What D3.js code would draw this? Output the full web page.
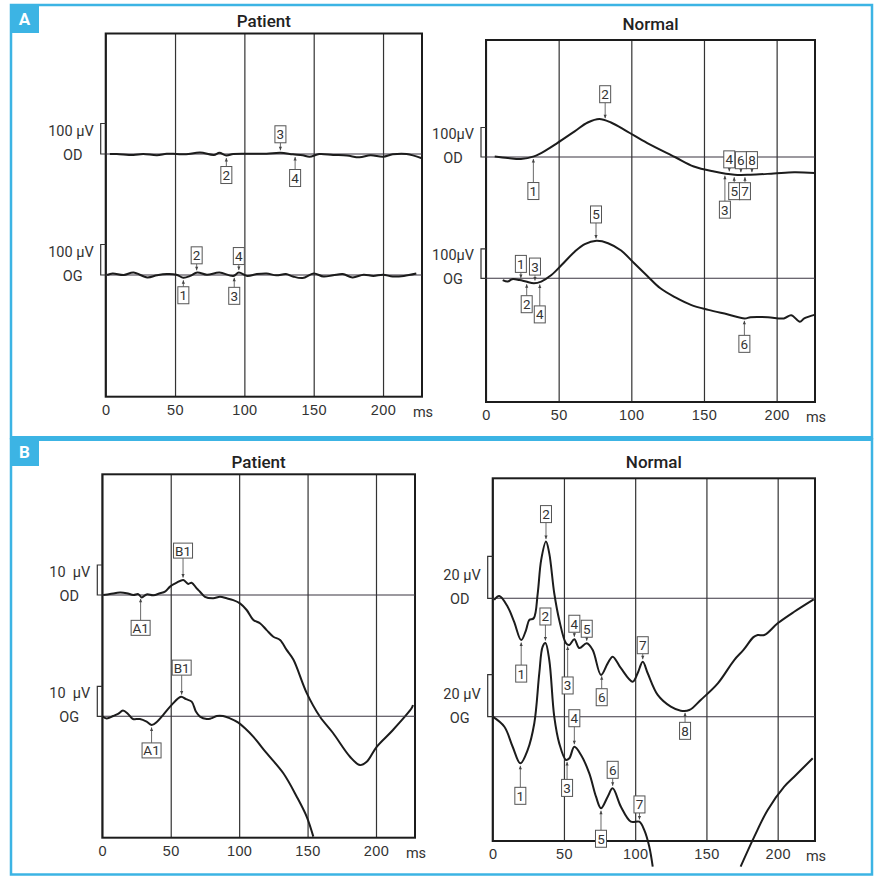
<!DOCTYPE html>
<html>
<head>
<meta charset="utf-8">
<script src="https://cdn.jsdelivr.net/npm/d3@7"></script>
<style>
  body { margin: 0; background: #fff; }
  svg { display: block; font-family: Roboto, "DejaVu Sans", sans-serif; }
  .tick text { font-size: 14.5px; fill: #333; letter-spacing: 0.4px; }
  .mark text { font-size: 13.5px; fill: #333; }
</style>
</head>
<body>
<svg width="882" height="878"></svg>
<script>
// time ticks (ms)
let ticksMs = [0, 50, 100, 150, 200];

// traces: [ms, µV]
let aPatientOD = [[3,0],[8,0],[20,-3],[27,0],[37,-4],[44,1],[51,0],[58,-1],[68,5],[78,-3],[82,4],[87,-5],
  [92,0],[102,1],[116,1],[126,4],[135,-1],[142,-4],[147,-9],[154,0],[164,-3],[174,-5],[183,-11],[191,-4],
  [200,-9],[207,-1],[217,0],[228,-14]];
let aPatientOG = [[1,0],[5,5],[13,0],[20,8],[30,-8],[37,-1],[44,3],[51,1],[56,-9],[61,-3],[66,8],[73,1],
  [82,8],[92,-3],[96,8],[102,-3],[109,3],[116,5],[123,-1],[130,3],[135,-5],[142,-10],[150,5],[157,-5],
  [164,-1],[171,3],[178,-8],[186,1],[193,-3],[200,1],[207,-5],[215,-3],[224,5]];
let aNormalOD = [[6,2],[15,-3],[24,-7],[33,2],[42,25],[49,47],[61,87],[70,117],[78,129],[86,117],[97,87],
  [111,47],[130,0],[143,-32],[157,-49],[171,-60],[182,-60],[198,-56],[212,-52],[226,-54]];
let aNormalOG = [[11.5,-6],[15,-11],[18,-3],[23,-6],[27.5,-11],[33,-17],[38,-11],[45,11],[52,45],[61,90],
  [68,116],[76,127],[84,119],[93,94],[102,51],[111,8],[120,-34],[130,-64],[141,-90],[153,-107],[166,-122],
  [178,-136],[182,-132],[194,-132],[205,-136],[210,-125],[216,-147],[219,-136],[226,-124]];

let bPatientOD = [[0.7,0],[5.6,0.3],[12.9,0.8],[17.8,0.6],[22.7,0],[26.3,0.3],[28.8,-0.8],[32.4,0.2],
  [37.3,-0.1],[42.2,0.6],[45.8,1.1],[49.5,2.8],[54.4,4.1],[59.2,5],[62.8,3.7],[65.3,4.1],[69,2.2],
  [71.4,1.1],[75,-0.6],[81.1,-1.1],[86,-0.6],[90.9,-1.1],[95.7,-1.7],[100.6,-2.8],[105.5,-5],[110.4,-8.3],
  [115.2,-9.4],[120.1,-11.7],[125,-13.9],[129.9,-15],[134.7,-18.3],[139.6,-21.5],[149.4,-32.7],
  [159.1,-40.6],[168.6,-46],[181,-53.9],[188.3,-56.7],[193.2,-55.6],[200.5,-50.6],[212.4,-45],
  [226.1,-37.7],[227,-36.7]];
let bPatientOG = [[0,0],[3.2,-0.7],[8,0.1],[11.5,0.8],[15.1,1.9],[18.8,0.8],[22.4,-0.9],[27.5,-0.9],
  [32.4,-1.8],[36.1,-2.9],[40,-1.8],[44.4,0.4],[50.7,3.8],[57.5,6.5],[61.2,5.7],[65.3,4.9],[68.5,1.5],
  [71.4,-0.1],[76.3,-0.9],[79.4,-0.7],[83.6,0.1],[88.2,0.1],[93.3,-0.7],[99.4,-2.1],[104.3,-4],
  [110.3,-6.8],[120.1,-12.3],[132.3,-19],[142.1,-26.8],[149.4,-33.5],[154.2,-40.1]];

let bNormalOD = [[1,-0.8],[4.6,1.1],[10.5,-4],[15,-11.1],[20,-19.9],[23.4,-15.1],[25.7,-10.3],[28.8,-9.5],
  [31.6,2.4],[34,18.2],[37.4,27],[39.7,21.4],[43.2,2.4],[46.7,-10.3],[51.4,-21.3],[53.8,-22.2],
  [57.3,-19.5],[60.8,-23.7],[66,-21.4],[70.2,-24.6],[76,-36.5],[80.7,-31],[84.2,-27.8],[90,-33.3],
  [98.2,-39.7],[101.7,-35.7],[105.3,-30.2],[108.8,-35.7],[115.8,-46],[125,-51.6],[132,-53.5],[138,-53.2],
  [146,-48.4],[158,-40.5],[169.5,-29.4],[176,-24.6],[183,-18.5],[186,-17.5],[190.6,-17.5],[200,-11.9],
  [211.6,-6.4],[225.3,-0.5]];
let bNormalOG = [[0,0],[8.2,-4.8],[14,-14.3],[19.4,-22.2],[24.5,-15.9],[29.2,-3.1],[32.7,20.7],[35,33.3],
  [37,35.1],[39.7,27],[43.2,0],[46.7,-12.7],[51.4,-20.6],[53.8,-19.8],[57.3,-14.3],[62,-18.2],[67.8,-27],
  [72.5,-38.1],[76,-43.6],[80.7,-38.1],[84.2,-34.1],[90,-42.9],[97,-50],[102.9,-50],[106.4,-54],
  [109.9,-61.9],[112.3,-71.4],[140,null],[174,-71.4],[183.6,-57.1],[193,-44.4],[204.6,-33.3],
  [211.6,-28.6],[224.6,-19.8]];

// peak markers: [trace, ms, label, side (-1 box above, 1 box below)]
let aPatientMarks = [["OD",126,"3",-1],["OD",87,"2",1],["OD",136.6,"4",1],
  ["OG",65.6,"2",-1],["OG",96,"4",-1],["OG",56,"1",1],["OG",92.7,"3",1]];
let aNormalMarks = [["OD",82,"2",-1],["OD",32.6,"1",1],["OD",167.4,"4",-1],["OD",175.4,"6",-1],
  ["OD",183,"8",-1],["OD",170.8,"5",1],["OD",178.2,"7",1],["OD",164.4,"3",1],
  ["OG",75.7,"5",-1],["OG",24,"1",-1],["OG",33.7,"3",-1],["OG",28,"2",1],["OG",37,"4",1],["OG",177.8,"6",1]];
let bPatientMarks = [["OD",59,"B1",-1],["OD",28,"A1",1],["OG",58,"B1",-1],["OG",36,"A1",1]];
let bNormalMarks = [["OD",37.4,"2",-1],["OD",20,"1",1],["OD",52.6,"3",1],["OD",57.3,"4",-1],["OD",66,"5",-1],
  ["OD",76.5,"6",1],["OD",105.3,"7",-1],["OD",135,"8",1],
  ["OG",37,"2",-1],["OG",57.3,"4",-1],["OG",19.4,"1",1],["OG",52.2,"3",1],["OG",76,"5",1],
  ["OG",84.2,"6",-1],["OG",103,"7",-1]];

let blue = '#3cb4e4';
let ink = '#1c1c1c';

let svg = d3.select('svg');

// outer blue frames and section labels
svg.append('rect').attr('x', 11).attr('y', 5).attr('width', 861).attr('height', 433)
  .attr('fill', 'none').attr('stroke', blue).attr('stroke-width', 2.5);
svg.append('rect').attr('x', 11).attr('y', 439.5).attr('width', 861).attr('height', 435)
  .attr('fill', 'none').attr('stroke', blue).attr('stroke-width', 2.5);
svg.append('rect').attr('x', 10).attr('y', 436).attr('width', 863).attr('height', 5).attr('fill', blue);
[['A', 4], ['B', 437]].forEach(([l, y]) => {
  svg.append('rect').attr('x', 10).attr('y', y).attr('width', 29).attr('height', 29).attr('fill', blue);
  svg.append('text').attr('x', 24.5).attr('y', y + 21).attr('text-anchor', 'middle')
    .attr('font-size', 17).attr('font-weight', 'bold').attr('fill', '#fff').text(l);
});

let panels = [
  { title: 'Patient', titleY: 27, x0: 105.7, x1: 422, y0: 33.5, y1: 396.7, tMax: 228.1,
    unit: 100, unitPx: 30.5, unitLabel: '100 µV', bases: { OD: 154, OG: 275 },
    traces: { OD: aPatientOD, OG: aPatientOG }, marks: aPatientMarks,
    gaps: [10, 11, 15, 9, 8, 9, 12] },
  { title: 'Normal', titleY: 30, x0: 486, x1: 815, y0: 40, y1: 402, tMax: 226.4,
    unit: 100, unitPx: 29.5, unitLabel: '100µV', bases: { OD: 157, OG: 278.3 },
    traces: { OD: aNormalOD, OG: aNormalOG }, marks: aNormalMarks,
    gaps: [18, 26, 6, 6, 6, 8, 8, 28, 18, 8, 8, 14, 24, 17] },
  { title: 'Patient', titleY: 468, x0: 102.3, x1: 415, y0: 474.3, y1: 837.7, tMax: 228.5,
    unit: 10, unitPx: 30, unitLabel: '10  µV', bases: { OD: 595, OG: 716.3 },
    traces: { OD: bPatientOD, OG: bPatientOG }, marks: bPatientMarks,
    gaps: [22, 24, 22, 18] },
  { title: 'Normal', titleY: 468, x0: 492.7, x1: 815, y0: 478.3, y1: 841, tMax: 226.2,
    unit: 20, unitPx: 42, unitLabel: '20 µV', bases: { OD: 598.3, OG: 716.7 },
    traces: { OD: bNormalOD, OG: bNormalOG }, marks: bNormalMarks,
    gaps: [19, 25, 33, 7, 6, 15, 8, 12, 18, 20, 24, 20, 22, 10, 9] }
];

// linear lookup of a trace value at time t
function valueAt(arr, t) {
  let pts = arr.filter(d => d[1] !== null);
  let i = d3.bisector(d => d[0]).right(pts, t);
  if (i <= 0) return pts[0][1];
  if (i >= pts.length) return pts[pts.length - 1][1];
  let a = pts[i - 1], b = pts[i];
  return a[1] + (b[1] - a[1]) * (t - a[0]) / (b[0] - a[0]);
}

panels.forEach(p => {
  let g = svg.append('g');
  let x = d3.scaleLinear().domain([0, p.tMax]).range([p.x0, p.x1]);

  // title
  g.append('text').attr('x', (p.x0 + p.x1) / 2).attr('y', p.titleY).attr('text-anchor', 'middle')
    .attr('font-size', 17).attr('font-weight', 500).attr('fill', '#222').text(p.title);

  // grid + tick labels
  let axis = g.append('g').attr('transform', `translate(0,${p.y0})`)
    .call(d3.axisBottom(x).tickValues(ticksMs).tickSize(p.y1 - p.y0).tickPadding(8));
  axis.select('.domain').remove();
  axis.selectAll('.tick line').attr('stroke', '#333').attr('stroke-width', 1.2);
  axis.selectAll('.tick text').attr('font-family', null);
  g.append('text').attr('x', p.x1 + 1).attr('y', p.y1 + 20).attr('text-anchor', 'middle')
    .attr('font-size', 14.5).attr('fill', '#333').text('ms');

  // frame
  g.append('rect').attr('x', p.x0).attr('y', p.y0).attr('width', p.x1 - p.x0).attr('height', p.y1 - p.y0)
    .attr('fill', 'none').attr('stroke', ink).attr('stroke-width', 2);

  let scales = {};
  ['OD', 'OG'].forEach(k => {
    let y = d3.scaleLinear().domain([0, p.unit]).range([p.bases[k], p.bases[k] - p.unitPx]);
    scales[k] = y;

    // baseline
    g.append('line').attr('x1', p.x0).attr('x2', p.x1).attr('y1', y(0)).attr('y2', y(0))
      .attr('stroke', '#3a3440').attr('stroke-width', 1.1);

    // calibration bracket
    g.append('path')
      .attr('d', `M${p.x0},${y(p.unit)}H${p.x0 - 5}V${y(0)}H${p.x0}`)
      .attr('fill', 'none').attr('stroke', '#333').attr('stroke-width', 1.2);
    g.append('text').attr('x', p.x0 - 12).attr('y', y(0) - 18).attr('text-anchor', 'end')
      .attr('font-size', 14.5).attr('fill', '#333').style('white-space', 'pre').text(p.unitLabel);
    g.append('text').attr('x', p.x0 - 33).attr('y', y(0) + 6).attr('text-anchor', 'middle')
      .attr('font-size', 14.5).attr('fill', '#333').text(k);

    // trace
    let line = d3.line()
      .defined(d => d[1] !== null)
      .x(d => x(d[0]))
      .y(d => y(d[1]))
      .curve(d3.curveCatmullRom.alpha(0.5));
    g.append('path').datum(p.traces[k]).attr('d', line)
      .attr('fill', 'none').attr('stroke', ink).attr('stroke-width', 2).attr('stroke-linejoin', 'round');
  });

  // peak markers
  p.marks.forEach((m, i) => {
    let [k, t, label, side] = m;
    let px = x(t);
    let py = scales[k](valueAt(p.traces[k], t));
    let gap = p.gaps[i];
    let w = label.length > 1 ? 19 : 11;
    let h = label.length > 1 ? 15 : 17;
    let tipY = py + side * 2.5;
    let edgeY = py + side * gap;
    let mg = g.append('g').attr('class', 'mark');
    mg.append('line').attr('x1', px).attr('x2', px).attr('y1', edgeY).attr('y2', tipY)
      .attr('stroke', '#444').attr('stroke-width', 0.8);
    mg.append('path')
      .attr('d', `M${px},${tipY}L${px - 1.6},${tipY + side * 3.5}L${px + 1.6},${tipY + side * 3.5}Z`)
      .attr('fill', '#444');
    let by = side > 0 ? edgeY : edgeY - h;
    mg.append('rect').attr('x', px - w / 2).attr('y', by).attr('width', w).attr('height', h)
      .attr('fill', '#fff').attr('stroke', '#555').attr('stroke-width', 1);
    mg.append('text').attr('x', px).attr('y', by + h / 2 + 5).attr('text-anchor', 'middle').text(label);
  });
});
</script>
</body>
</html>
